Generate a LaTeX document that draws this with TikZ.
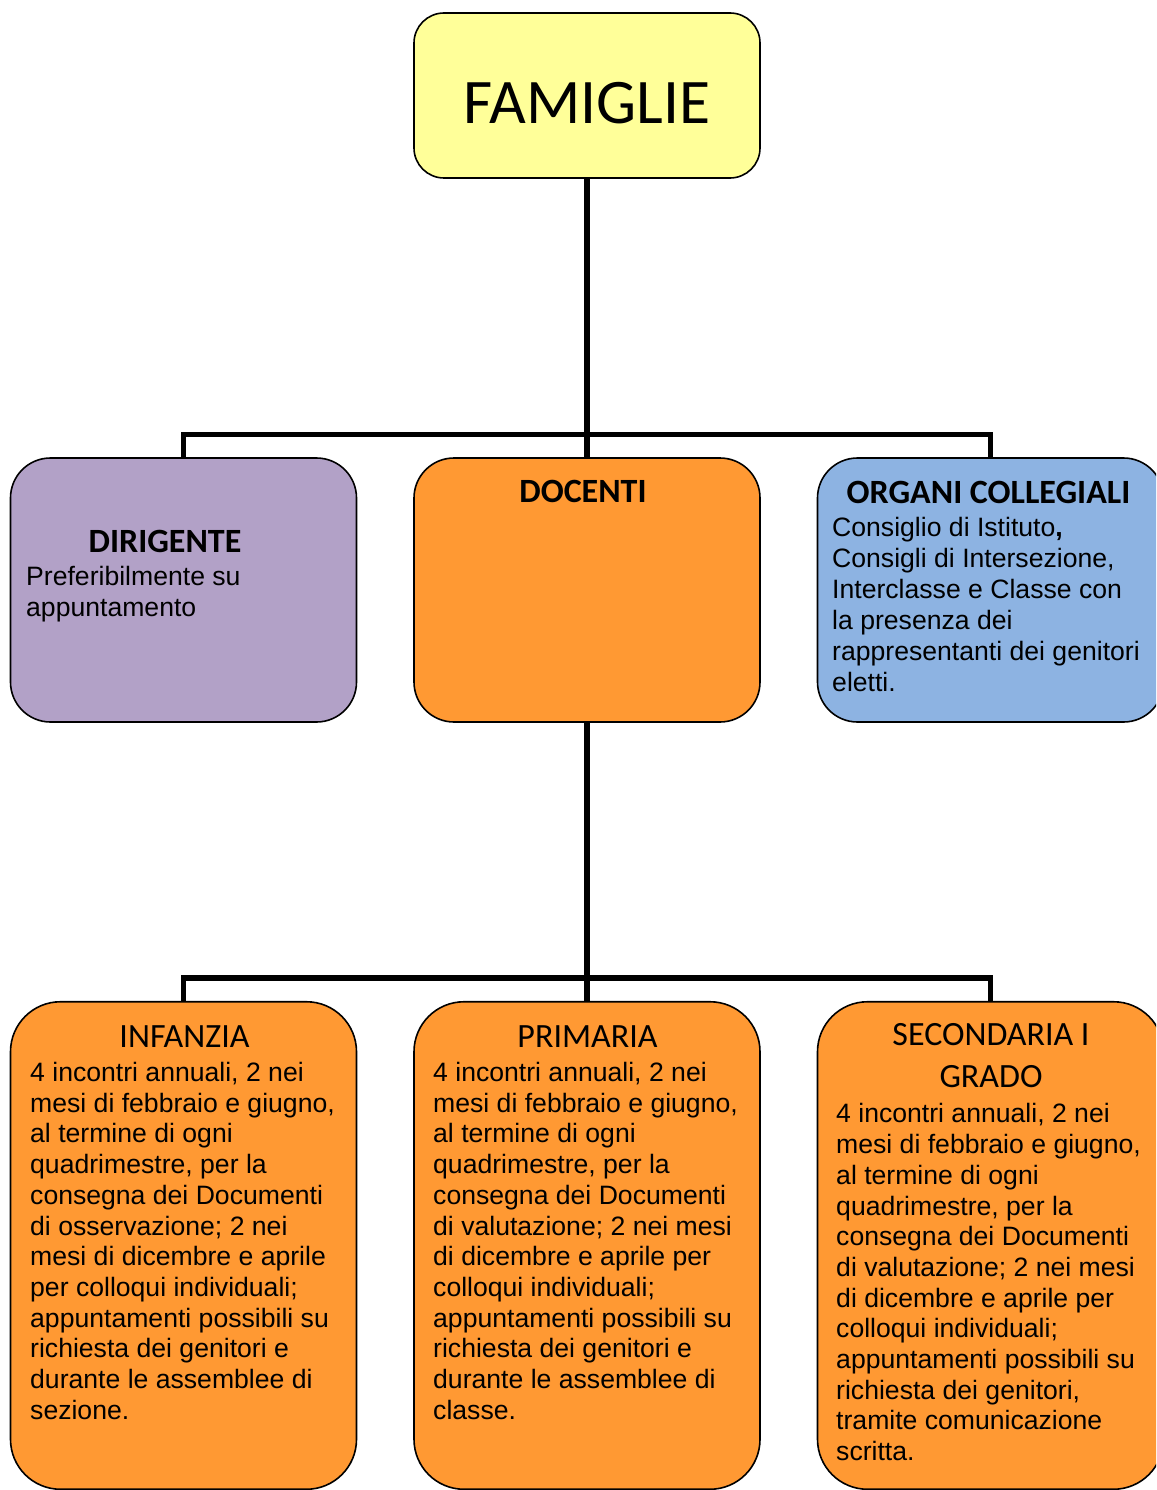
\documentclass[tikz,border=0pt]{standalone}
\usepackage{fontspec}
\setmainfont{Liberation Sans}
\newfontfamily\carl{Carlito}
\definecolor{famyel}{HTML}{FFFF99}
\definecolor{purp}{HTML}{B2A1C7}
\definecolor{orng}{HTML}{FF9933}
\definecolor{blu}{HTML}{8DB3E2}
\begin{document}
\begin{tikzpicture}[x=1pt,y=-1pt,
  boxbase/.style={draw=black, line width=1.6pt, inner sep=0pt, minimum width=346pt},
  fambox/.style={boxbase, fill=famyel, rounded corners=30pt, minimum height=165pt},
  midbox/.style={boxbase, rounded corners=40pt, minimum height=264pt},
  lowbox/.style={boxbase, fill=orng, rounded corners=50pt, minimum height=487.5pt},
  conn/.style={line width=5.5pt, draw=black, line join=miter},
  bodytxt/.style={inner sep=0pt, anchor=north west, align=left, font=\fontsize{26.6}{30.7}\selectfont},
  bodytxtb/.style={inner sep=0pt, anchor=north west, align=left, font=\fontsize{26.6}{31}\selectfont},
  ttlreg/.style={inner sep=0pt, anchor=base, font=\carl\fontsize{34}{42}\selectfont},
  ttlbold/.style={inner sep=0pt, anchor=base, font=\carl\bfseries\fontsize{34}{42}\selectfont}]
\useasboundingbox (0,0) rectangle (1156,1490);
\clip (0,0) rectangle (1156,1490);

% boxes
\node[fambox] (fam) at (587,95.5) {};
\node[midbox, fill=purp] (dir) at (183.5,590) {};
\node[midbox, fill=orng] (doc) at (587,590) {};
\node[midbox, fill=blu] (org) at (990.5,590) {};
\node[lowbox] (inf) at (183.5,1245.5) {};
\node[lowbox] (pri) at (587,1245.5) {};
\node[lowbox] (sec) at (990.5,1245.5) {};

% connectors
\coordinate (j1) at (587,434.5);
\coordinate (j2) at (587,978);
\draw[conn] (fam.south) -- (doc.north);
\draw[conn] (dir.north) |- (j1) -| (org.north);
\draw[conn] (doc.south) -- (pri.north);
\draw[conn] (inf.north) |- (j2) -| (sec.north);

% texts
\node[inner sep=0pt, anchor=base, font=\carl\fontsize{63.5}{76}\selectfont] (famt) at (587,124) {FAMIGLIE};

\node[ttlbold] (dirt) at (165,552) {DIRIGENTE};
\node[bodytxtb] (dirb) at (26,563.3) {\strut Preferibilmente su\\appuntamento};

\node[ttlbold] (doct) at (583,502) {DOCENTI};

\node[ttlbold] (orgt) at (988.5,503) {ORGANI COLLEGIALI};
\node[bodytxtb] (orgb) at (832,514.3) {\strut Consiglio di Istituto{\bfseries ,}\\Consigli di Intersezione,\\Interclasse e Classe con\\la presenza dei\\rappresentanti dei genitori\\eletti.};

\node[ttlreg] (inft) at (184.5,1047.5) {INFANZIA};
\node[bodytxt] (infb) at (30,1059.8) {\strut 4 incontri annuali, 2 nei\\mesi di febbraio e giugno,\\al termine di ogni\\quadrimestre, per la\\consegna dei Documenti\\di osservazione; 2 nei\\mesi di dicembre e aprile\\per colloqui individuali;\\appuntamenti possibili su\\richiesta dei genitori e\\durante le assemblee di\\sezione.};

\node[ttlreg] (prit) at (587.5,1047.5) {PRIMARIA};
\node[bodytxt] (prib) at (433,1059.8) {\strut 4 incontri annuali, 2 nei\\mesi di febbraio e giugno,\\al termine di ogni\\quadrimestre, per la\\consegna dei Documenti\\di valutazione; 2 nei mesi\\di dicembre e aprile per\\colloqui individuali;\\appuntamenti possibili su\\richiesta dei genitori e\\durante le assemblee di\\classe.};

\node[inner sep=0pt, anchor=north, align=center, font=\carl\fontsize{34}{42}\selectfont] (sect) at (991,1016) {\strut SECONDARIA I\\GRADO};
\node[bodytxt] (secb) at (836,1101.2) {\strut 4 incontri annuali, 2 nei\\mesi di febbraio e giugno,\\al termine di ogni\\quadrimestre, per la\\consegna dei Documenti\\di valutazione; 2 nei mesi\\di dicembre e aprile per\\colloqui individuali;\\appuntamenti possibili su\\richiesta dei genitori,\\tramite comunicazione\\scritta.};
\end{tikzpicture}
\end{document}
